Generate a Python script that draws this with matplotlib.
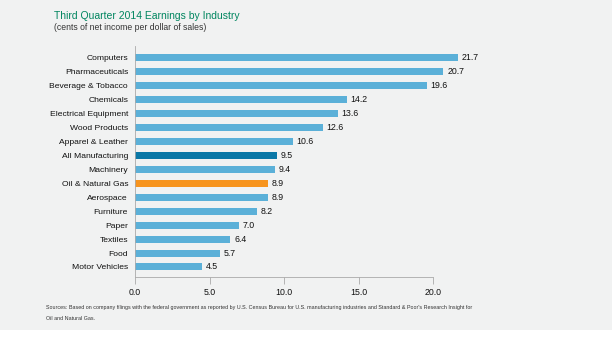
import matplotlib.pyplot as plt
import matplotlib.patches as mpatches

industries = ["Computers", "Pharmaceuticals", "Beverage & Tobacco", "Chemicals",
              "Electrical Equipment", "Wood Products", "Apparel & Leather",
              "All Manufacturing", "Machinery", "Oil & Natural Gas", "Aerospace",
              "Furniture", "Paper", "Textiles", "Food", "Motor Vehicles"]
earnings = [21.7, 20.7, 19.6, 14.2, 13.6, 12.6, 10.6, 9.5, 9.4, 8.9, 8.9,
            8.2, 7.0, 6.4, 5.7, 4.5]
x_ticks = [0, 5, 10, 15, 20]

plt.rcParams['font.family'] = ['Liberation Sans', 'DejaVu Sans']

bg = '#f1f2f2'
fig = plt.figure(figsize=(6.12, 3.37), dpi=100)
fig.patch.set_facecolor('white')
# gray panel behind the chart, white strip along the bottom
fig.add_artist(mpatches.Rectangle((0, 7 / 337), 1, 1, transform=fig.transFigure,
                                  facecolor=bg, edgecolor='none', zorder=0))

ax = fig.add_axes([135 / 612, 60 / 337, 372.5 / 612, 231 / 337])
ax.set_facecolor('none')

colors = []
for name in industries:
    if name == "All Manufacturing":
        colors.append('#0a77a6')
    elif name == "Oil & Natural Gas":
        colors.append('#f7941e')
    else:
        colors.append('#5bb0d8')

ypos = list(range(len(industries)))
ax.barh(ypos, earnings, height=0.5, color=colors)
for y, v in zip(ypos, earnings):
    ax.text(v + 0.25, y, f"{v:.1f}", va='center', ha='left', fontsize=6.3, color='#111111')

ax.set_xlim(0, 25)
ax.set_ylim(15.72, -0.86)
ax.set_yticks(ypos)
ax.set_yticklabels(industries, fontsize=6.1, color='#111111')
ax.set_xticks(x_ticks)
ax.set_xticklabels([f"{t:.1f}" for t in x_ticks], fontsize=6.3, color='#111111')
ax.tick_params(axis='y', length=0, pad=5)
ax.tick_params(axis='x', length=5, width=0.6, color='#aaaaaa', pad=3)

for s in ['top', 'right']:
    ax.spines[s].set_visible(False)
ax.spines['left'].set_color('#aaaaaa')
ax.spines['left'].set_linewidth(0.6)
ax.spines['bottom'].set_color('#aaaaaa')
ax.spines['bottom'].set_linewidth(0.6)
ax.spines['bottom'].set_bounds(0, 20)

fig.text(54 / 612, 1 - 16 / 337, "Third Quarter 2014 Earnings by Industry",
         fontsize=7.5, color='#00855f', va='center', ha='left')
fig.text(54 / 612, 1 - 28 / 337, "(cents of net income per dollar of sales)",
         fontsize=6.2, color='#333333', va='center', ha='left')

fig.text(46 / 612, 1 - 307 / 337,
         "Sources: Based on company filings with the federal government as reported by "
         "U.S. Census Bureau for U.S. manufacturing industries and Standard & Poor's "
         "Research Insight for", fontsize=3.9, color='#333333', va='center', ha='left')
fig.text(46 / 612, 1 - 318 / 337, "Oil and Natural Gas.",
         fontsize=3.9, color='#333333', va='center', ha='left')

fig.savefig('out.png', dpi=100, facecolor=fig.get_facecolor())
